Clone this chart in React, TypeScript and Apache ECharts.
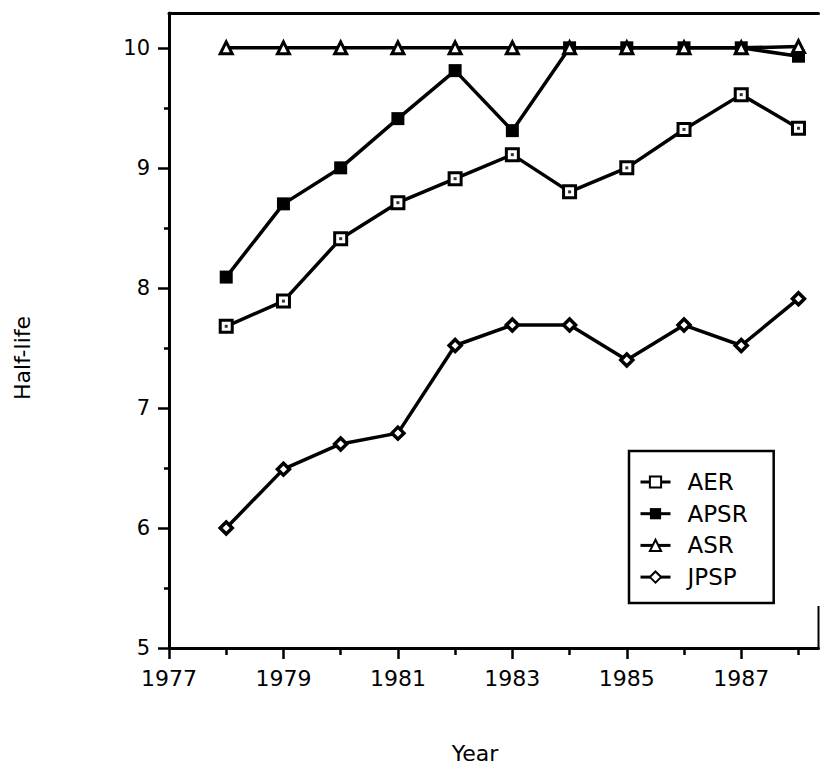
import React, { useEffect, useRef } from "react";
import * as echarts from "echarts";

const years = [1978, 1979, 1980, 1981, 1982, 1983, 1984, 1985, 1986, 1987, 1988];
const aer = [7.68, 7.89, 8.41, 8.71, 8.91, 9.11, 8.8, 9.0, 9.32, 9.61, 9.33];
const apsr = [8.09, 8.7, 9.0, 9.41, 9.81, 9.31, 10.0, 10.0, 10.0, 10.0, 9.93];
const asr = [10, 10, 10, 10, 10, 10, 10, 10, 10, 10, 10.01];
const jpsp = [6.0, 6.49, 6.7, 6.79, 7.52, 7.69, 7.69, 7.4, 7.69, 7.52, 7.91];

const legendNames = ["AER", "APSR", "ASR", "JPSP"];
const yTickValues = [5, 6, 7, 8, 9, 10];
const yMinorTickValues = [5.5, 6.5, 7.5, 8.5, 9.5];
const xLabelValues = [1977, 1979, 1981, 1983, 1985, 1987];
const xMinorTickValues = [1978, 1980, 1982, 1984, 1986, 1988];

const FONT = '"DejaVu Sans", "Liberation Sans", Arial, sans-serif';

const pairs = (vals: number[]) => years.map((y, i) => [y, vals[i]]);

export default function App() {
  const ref = useRef<HTMLDivElement>(null);

  useEffect(() => {
    if (!ref.current) return;
    const chart = echarts.init(ref.current, undefined, { renderer: "svg" });
    const X_MIN = 1977;
    const X_MAX = 1988.35;
    const Y_MIN = 5;
    const Y_MAX = 10.29;
    const lineStyle = { color: "#000", width: 3.5 };

    chart.setOption({
      animation: false,
      backgroundColor: "#fff",
      textStyle: { fontFamily: FONT, color: "#000" },
      grid: { left: 169, top: 13, right: 1.5, bottom: 116 },
      xAxis: [
        {
          type: "value",
          position: "bottom",
          min: X_MIN,
          max: X_MAX,
          axisLine: { show: true, lineStyle: { color: "#000", width: 3 } },
          axisTick: {
            show: true,
            inside: false,
            length: 11,
            lineStyle: { color: "#000", width: 2.5 },
            customValues: xLabelValues,
          },
          axisLabel: {
            show: true,
            customValues: xLabelValues,
            formatter: (v: number) => String(v),
            fontSize: 22,
            fontFamily: FONT,
            color: "#000",
            margin: 19,
          },
          splitLine: { show: false },
        },
        {
          type: "value",
          position: "bottom",
          min: X_MIN,
          max: X_MAX,
          axisLine: { show: false },
          axisTick: {
            show: true,
            inside: false,
            length: 7,
            lineStyle: { color: "#000", width: 2.5 },
            customValues: xMinorTickValues,
          },
          axisLabel: { show: false },
          splitLine: { show: false },
        },
        {
          type: "value",
          position: "top",
          min: X_MIN,
          max: X_MAX,
          axisLine: { show: true, lineStyle: { color: "#000", width: 3 } },
          axisTick: { show: false },
          axisLabel: { show: false },
          splitLine: { show: false },
        },
      ],
      yAxis: [
        {
          type: "value",
          position: "left",
          min: Y_MIN,
          max: Y_MAX,
          axisLine: { show: true, lineStyle: { color: "#000", width: 3 } },
          axisTick: {
            show: true,
            inside: false,
            length: 11,
            lineStyle: { color: "#000", width: 2.5 },
            customValues: yTickValues,
          },
          axisLabel: {
            show: true,
            customValues: yTickValues,
            formatter: (v: number) => String(v),
            fontSize: 21,
            fontFamily: FONT,
            color: "#000",
            margin: 19,
          },
          splitLine: { show: false },
        },
        {
          type: "value",
          position: "left",
          min: Y_MIN,
          max: Y_MAX,
          axisLine: { show: false },
          axisTick: {
            show: true,
            inside: false,
            length: 5,
            lineStyle: { color: "#000", width: 2.5 },
            customValues: yMinorTickValues,
          },
          axisLabel: { show: false },
          splitLine: { show: false },
        },
      ],
      legend: {
        data: legendNames,
        orient: "vertical",
        left: 629,
        top: 451,
        padding: [19, 26, 14, 10],
        itemGap: 7.7,
        itemWidth: 30,
        itemHeight: 14,
        borderColor: "#000",
        borderWidth: 2.5,
        backgroundColor: "#fff",
        selectedMode: false,
        lineStyle: { width: 3 },
        textStyle: {
          fontSize: 23,
          fontFamily: FONT,
          color: "#000",
          lineHeight: 24,
          padding: [0, 0, 0, 12],
        },
      },
      graphic: [
        {
          type: "text",
          rotation: Math.PI / 2,
          x: 22,
          y: 358,
          style: {
            text: "Half-life",
            fontSize: 22,
            fontFamily: FONT,
            fill: "#000",
            align: "center",
            verticalAlign: "middle",
          },
        },
        {
          type: "text",
          x: 475,
          y: 753,
          style: {
            text: "Year",
            fontSize: 22,
            fontFamily: FONT,
            fill: "#000",
            align: "center",
            verticalAlign: "middle",
          },
        },
        {
          type: "line",
          shape: { x1: 818.5, y1: 606, x2: 818.5, y2: 648 },
          style: { stroke: "#000", lineWidth: 2 },
        },
      ],
      series: [
        {
          name: "AER",
          type: "line",
          xAxisIndex: 0,
          yAxisIndex: 0,
          data: pairs(aer),
          symbol: "rect",
          symbolSize: 12,
          showSymbol: true,
          lineStyle,
          itemStyle: { color: "#fff", borderColor: "#000", borderWidth: 3 },
        },
        {
          name: "AER-dot",
          type: "scatter",
          xAxisIndex: 0,
          yAxisIndex: 0,
          data: pairs(aer),
          symbol: "rect",
          symbolSize: 3,
          itemStyle: { color: "#000" },
          silent: true,
          z: 3,
        },
        {
          name: "APSR",
          type: "line",
          xAxisIndex: 0,
          yAxisIndex: 0,
          data: pairs(apsr),
          symbol: "rect",
          symbolSize: 13,
          showSymbol: true,
          lineStyle,
          itemStyle: { color: "#000", borderColor: "#000", borderWidth: 0 },
        },
        {
          name: "ASR",
          type: "line",
          xAxisIndex: 0,
          yAxisIndex: 0,
          data: pairs(asr),
          symbol: "triangle",
          symbolSize: 12,
          showSymbol: true,
          lineStyle,
          itemStyle: { color: "#fff", borderColor: "#000", borderWidth: 3 },
        },
        {
          name: "JPSP",
          type: "line",
          xAxisIndex: 0,
          yAxisIndex: 0,
          data: pairs(jpsp),
          symbol: "diamond",
          symbolSize: 12,
          showSymbol: true,
          lineStyle,
          itemStyle: { color: "#fff", borderColor: "#000", borderWidth: 3.5 },
        },
      ],
    });

    return () => chart.dispose();
  }, []);

  return (
    <div
      ref={ref}
      style={{ position: "absolute", left: 0, top: 0, width: 820, height: 764, background: "#fff" }}
    />
  );
}
